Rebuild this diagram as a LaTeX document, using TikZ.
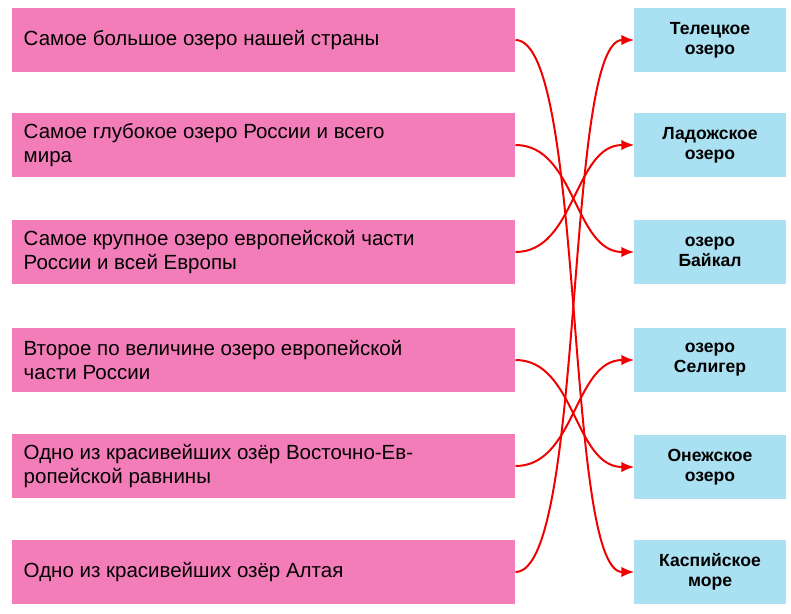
\documentclass[tikz,border=0pt]{standalone}
\usepackage{fontspec}
\setmainfont{Liberation Sans}
\usepackage{tikz}
\usetikzlibrary{positioning,calc}
\usetikzlibrary{arrows,arrows.meta,shapes}
\definecolor{pinkbox}{RGB}{243,125,185}
\definecolor{bluebox}{RGB}{170,225,242}
\definecolor{arrowred}{RGB}{240,0,0}
\tikzstyle{question} = [rectangle,fill=pinkbox,minimum width=15.09cm,minimum height=1.9cm,text width=14.4cm,align=justify,anchor=west,font=\fontsize{17.5}{21}\selectfont]
\tikzstyle{lake} = [rectangle,fill=bluebox,minimum width=4.38cm,minimum height=1.92cm,text width=4.3cm,align=center,font=\bfseries\fontsize{15}{17}\selectfont]
\tikzstyle{line} = [-{Latex[length=11pt,width=9pt]},draw=arrowred,line width=1.7pt]

\begin{document}
\begin{tikzpicture}[x=0.03cm,y=-0.03cm]
        \useasboundingbox (0,0) rectangle (791,613);
        \node[question] (q1) at (12,40) {Самое большое озеро нашей страны};
        \node[question] (q2) at (12,145) {Самое глубокое озеро России и всего\\мира};
        \node[question] (q3) at (12,252) {Самое крупное озеро европейской части\\России и всей Европы};
        \node[question] (q4) at (12,360) {Второе по величине озеро европейской\\части России};
        \node[question] (q5) at (12,466) {Одно из красивейших озёр Восточно-Ев-\\ропейской равнины};
        \node[question] (q6) at (12,572) {Одно из красивейших озёр Алтая};
        \node[lake] (r1) at (710,40) {Телецкое\\озеро};
        \node[lake] (r2) at (710,145) {Ладожское\\озеро};
        \node[lake] (r3) at (710,252) {озеро\\Байкал};
        \node[lake] (r4) at (710,360) {озеро\\Селигер};
        \node[lake] (r5) at (710,467) {Онежское\\озеро};
        \node[lake] (r6) at (710,572) {Каспийское\\море};
        \path[line] (q1.east) .. controls +(70,0) and +(-70,0) .. (r6.west);
        \path[line] (q2.east) .. controls +(60,0) and +(-60,0) .. (r3.west);
        \path[line] (q3.east) .. controls +(60,0) and +(-60,0) .. (r2.west);
        \path[line] (q4.east) .. controls +(60,0) and +(-60,0) .. (r5.west);
        \path[line] (q5.east) .. controls +(60,0) and +(-60,0) .. (r4.west);
        \path[line] (q6.east) .. controls +(70,0) and +(-70,0) .. (r1.west);
    \end{tikzpicture}
\end{document}
